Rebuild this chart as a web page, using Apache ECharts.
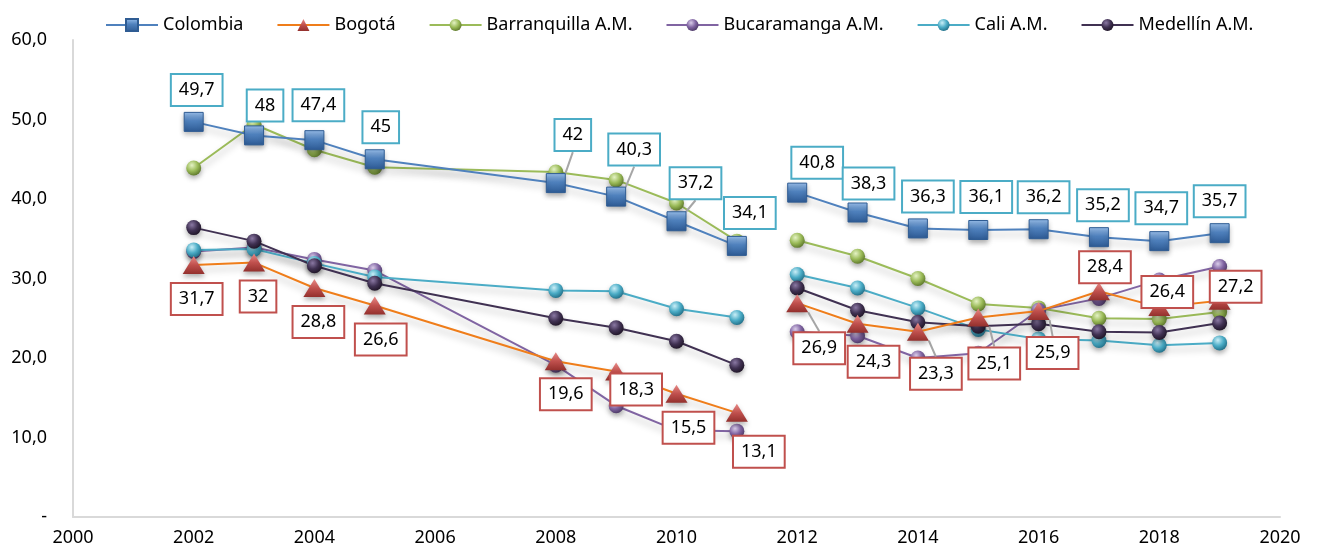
<!DOCTYPE html>
<html>
<head>
<meta charset="utf-8">
<script src="https://cdn.jsdelivr.net/npm/echarts@6/dist/echarts.min.js"></script>
<style>html,body{margin:0;padding:0;background:#fff}#c{width:1330px;height:552px}</style>
</head>
<body>
<div id="c"></div>
<script>
// ---- data ----
const years = [2002, 2003, 2004, 2005, 2008, 2009, 2010, 2011, 2012, 2013, 2014, 2015, 2016, 2017, 2018, 2019];
const gapAfterYear = 2011;
const seriesNames = ['Colombia', 'Bogotá', 'Barranquilla A.M.', 'Bucaramanga A.M.', 'Cali A.M.', 'Medellín A.M.'];
const colombia     = [49.7, 48, 47.4, 45, 42, 40.3, 37.2, 34.1, 40.8, 38.3, 36.3, 36.1, 36.2, 35.2, 34.7, 35.7];
const bogota       = [31.7, 32, 28.8, 26.6, 19.6, 18.3, 15.5, 13.1, 26.9, 24.3, 23.3, 25.1, 25.9, 28.4, 26.4, 27.2];
const barranquilla = [43.9, 49.4, 46.2, 44.0, 43.4, 42.4, 39.5, 34.7, 34.8, 32.8, 30.0, 26.8, 26.3, 25.0, 24.9, 25.8];
const bucaramanga  = [33.4, 33.9, 32.4, 31.0, 19.1, 14.0, 10.9, 10.8, 23.3, 22.8, 20.0, 20.6, 26.0, 27.5, 29.8, 31.5];
const cali         = [33.6, 33.7, 31.9, 30.2, 28.5, 28.4, 26.2, 25.1, 30.5, 28.8, 26.3, 23.6, 22.4, 22.2, 21.6, 21.9];
const medellin     = [36.4, 34.7, 31.6, 29.4, 25.0, 23.8, 22.1, 19.1, 28.8, 26.0, 24.5, 24.0, 24.3, 23.3, 23.2, 24.4];
const xTicks = [2000, 2020, 2];
const yTicks = [0, 60, 10];

// ---- layout of labels (pixel offsets from the point, not data) ----
const colOffsets = [[3,-32],[11,-30],[4,-35],[6,-32],[17,-48],[18,-47],[19,-38],[13,-33],[20,-30],[11,-29],[10,-32],[8,-33],[5,-32],[4,-32],[2,-33],[0,-32]];
const colLeader  = [0,0,0,0,1,1,1,0,0,0,0,0,0,0,0,0];
const bogOffsets = [[3,34],[4,34],[4,34],[6,34],[10,33],[20,18],[12,34],[22,39],[22,45],[16,38],[18,42],[16,46],[14,42],[6,-24],[8,-15],[16,-14]];
const bogLeader  = [0,0,0,0,0,0,0,0,1,0,1,1,1,0,0,0];

function build(vals) {
  const out = [];
  years.forEach((y, i) => {
    out.push([y, vals[i]]);
    if (y === gapAfterYear) out.push([y + 0.5, '-']);
  });
  return out;
}
function idxToYearIdx(di) {
  const g = years.indexOf(gapAfterYear);
  return di > g ? di - 1 : di;
}
const fmt = v => String(v).replace('.', ',');
const FONT = '"Noto Sans", "Open Sans", sans-serif';

function shadowLine(color, w) {
  return { color: color, width: w || 2, shadowColor: 'rgba(0,0,0,0.28)', shadowBlur: 7, shadowOffsetY: 5 };
}
function ball(light, base, dark) {
  return new echarts.graphic.RadialGradient(0.38, 0.32, 0.7, [
    { offset: 0, color: light }, { offset: 0.55, color: base }, { offset: 1, color: dark }
  ]);
}
function labelCfg(border) {
  return {
    show: true, position: 'inside', fontFamily: FONT, fontSize: 18, color: '#000',
    backgroundColor: '#fff', borderColor: border, borderWidth: 2, padding: [5, 7],
    lineHeight: 20,
    formatter: p => fmt(p.value[1])
  };
}
function withLeader(data, flags) {
  return data.map((d, di) => {
    if (d[1] === '-') return d;
    const k = idxToYearIdx(di);
    return flags[k] ? { value: d, labelLine: { show: true, lineStyle: { color: '#a6a6a6', width: 2 } } } : d;
  });
}

const circleSeries = [
  { name: seriesNames[2], vals: barranquilla, line: '#9bbb59', c: ['#e4f2c4', '#9bbb59', '#5f7a2c'] },
  { name: seriesNames[3], vals: bucaramanga,  line: '#8064a2', c: ['#d9cce9', '#8064a2', '#4e3a68'] },
  { name: seriesNames[4], vals: cali,         line: '#4bacc6', c: ['#c9eef7', '#4bacc6', '#23718a'] },
  { name: seriesNames[5], vals: medellin,     line: '#403152', c: ['#8a78a3', '#403152', '#201628'] }
];

const series = [
  {
    name: seriesNames[0], type: 'line', data: withLeader(build(colombia), colLeader),
    symbol: 'rect', symbolSize: 19, z: 3,
    lineStyle: shadowLine('#4f81bd', 2),
    itemStyle: {
      color: new echarts.graphic.LinearGradient(0, 0, 0, 1, [
        { offset: 0, color: '#9cc2ef' }, { offset: 0.45, color: '#4f81bd' }, { offset: 1, color: '#2d5a94' }
      ]),
      borderColor: '#2f5c93', borderWidth: 1,
      shadowColor: 'rgba(0,0,0,0.3)', shadowBlur: 5, shadowOffsetY: 3
    },
    label: labelCfg('#4bacc6'),
    labelLayout: p => { const o = colOffsets[idxToYearIdx(p.dataIndex)] || [0, 0]; return { dx: o[0], dy: o[1] }; },
    labelLine: { show: false },
    emphasis: { disabled: true }
  },
  {
    name: seriesNames[1], type: 'line', data: withLeader(build(bogota), bogLeader),
    symbol: 'triangle', symbolSize: [22, 18], z: 3,
    lineStyle: shadowLine('#ef7d1a', 2),
    itemStyle: {
      color: new echarts.graphic.LinearGradient(0, 0, 0, 1, [
        { offset: 0, color: '#e88a87' }, { offset: 0.5, color: '#c0504d' }, { offset: 1, color: '#93302d' }
      ]),
      shadowColor: 'rgba(0,0,0,0.3)', shadowBlur: 5, shadowOffsetY: 3
    },
    label: labelCfg('#c0504d'),
    labelLayout: p => { const o = bogOffsets[idxToYearIdx(p.dataIndex)] || [0, 0]; return { dx: o[0], dy: o[1] }; },
    labelLine: { show: false },
    emphasis: { disabled: true }
  }
].concat(circleSeries.map(s => ({
  name: s.name, type: 'line', data: build(s.vals),
  symbol: 'circle', symbolSize: 15, z: 2,
  lineStyle: shadowLine(s.line, 2),
  itemStyle: { color: ball(s.c[0], s.c[1], s.c[2]), shadowColor: 'rgba(0,0,0,0.3)', shadowBlur: 5, shadowOffsetY: 3 },
  emphasis: { disabled: true }
})));

const chart = echarts.init(document.getElementById('c'), null, { renderer: 'canvas' });
chart.setOption({
  animation: false,
  backgroundColor: '#fff',
  textStyle: { fontFamily: FONT },
  legend: {
    top: 11, left: 100, itemWidth: 52, itemHeight: 15, itemGap: 33,
    textStyle: { fontFamily: FONT, fontSize: 18, color: '#000' },
    data: seriesNames
  },
  grid: { left: 73, right: 50, top: 40, bottom: 35, containLabel: false },
  xAxis: {
    type: 'value', min: xTicks[0], max: xTicks[1], interval: xTicks[2],
    axisLine: { show: true, lineStyle: { color: '#d9d9d9', width: 2 } },
    axisTick: { show: false }, splitLine: { show: false },
    axisLabel: { fontFamily: FONT, fontSize: 18, color: '#000', margin: 12, formatter: v => String(v) }
  },
  yAxis: {
    type: 'value', min: yTicks[0], max: yTicks[1], interval: yTicks[2],
    axisLine: { show: true, lineStyle: { color: '#d9d9d9', width: 2 } },
    axisTick: { show: false }, splitLine: { show: false },
    axisLabel: { fontFamily: FONT, fontSize: 18, color: '#000', margin: 26,
      formatter: v => v === 0 ? '-' : v.toFixed(1).replace('.', ',') }
  },
  series: series
});
</script>
</body>
</html>
